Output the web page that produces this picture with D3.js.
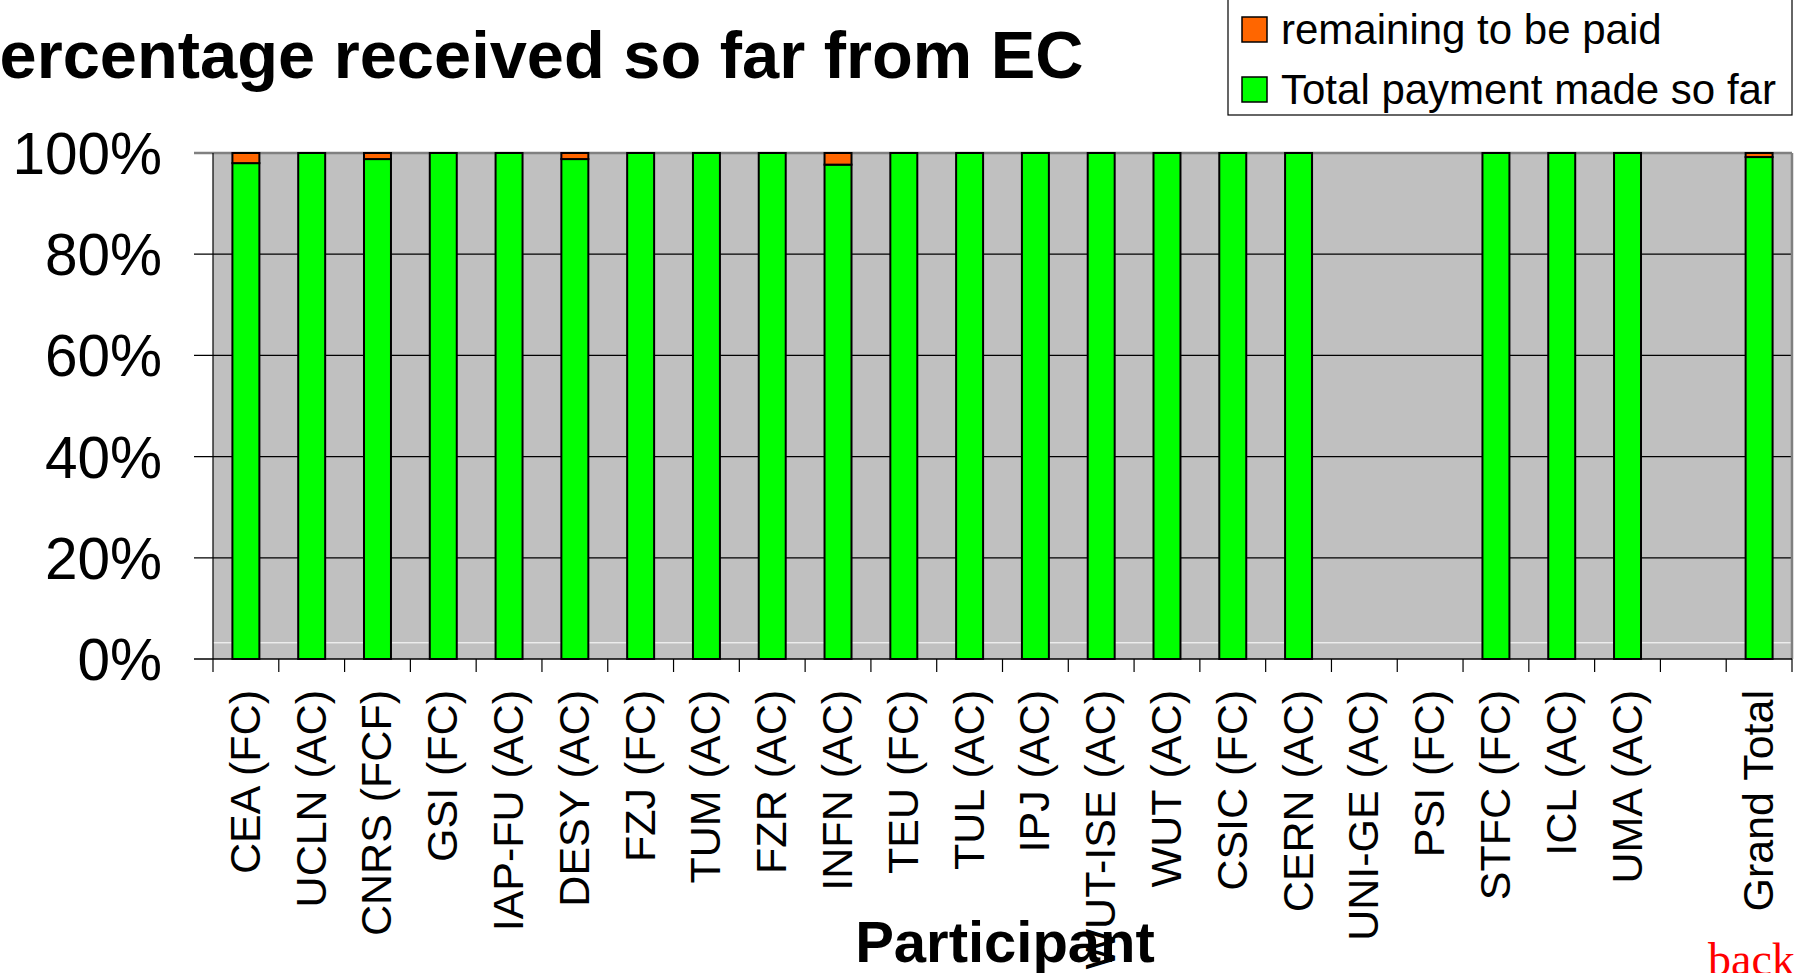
<!DOCTYPE html>
<html>
<head>
<meta charset="utf-8">
<script src="https://cdn.jsdelivr.net/npm/d3@7"></script>
<style>
  body { margin: 0; background: #fff; }
  svg { display: block; font-family: "Liberation Sans", Arial, sans-serif; }
</style>
</head>
<body>
<svg id="chart" width="1803" height="973"></svg>
<script>
// categories (the empty one is the gap before Grand Total)
const participants = [
  "CEA (FC)", "UCLN (AC)", "CNRS (FCF)", "GSI (FC)", "IAP-FU (AC)", "DESY (AC)",
  "FZJ (FC)", "TUM (AC)", "FZR (AC)", "INFN (AC)", "TEU (FC)", "TUL (AC)",
  "IPJ (AC)", "WUT-ISE (AC)", "WUT (AC)", "CSIC (FC)", "CERN (AC)", "UNI-GE (AC)",
  "PSI (FC)", "STFC (FC)", "ICL (AC)", "UMA (AC)", "", "Grand Total"
]
// percent paid so far / remaining (null = no bar)
const paidSoFar = [
  98.0, 100, 98.8, 100, 100, 98.8,
  100, 100, 100, 97.7, 100, 100,
  100, 100, 100, 100, 100, null,
  null, 100, 100, 100, null, 99.2
]
const remaining = [
  2.0, 0, 1.2, 0, 0, 1.2,
  0, 0, 0, 2.3, 0, 0,
  0, 0, 0, 0, 0, null,
  null, 0, 0, 0, null, 0.8
]
const yTicks = [0, 20, 40, 60, 80, 100]
const legendItems = [
  { label: "remaining to be paid", color: "#FF6600" },
  { label: "Total payment made so far", color: "#00FF00" }
]

const svg = d3.select("#chart")
const plot = { left: 213, right: 1792, top: 153, bottom: 659 }

const x = d3.scaleBand().domain(participants).range([plot.left, plot.right]).padding(0)
const y = d3.scaleLinear().domain([0, 100]).range([plot.bottom, plot.top])

// plot background
svg.append("rect")
  .attr("x", plot.left).attr("y", plot.top)
  .attr("width", plot.right - plot.left).attr("height", plot.bottom - plot.top)
  .attr("fill", "#C0C0C0")

// odd white line near the floor, as in the original
svg.append("line")
  .attr("x1", plot.left).attr("x2", plot.right)
  .attr("y1", y(3.2)).attr("y2", y(3.2))
  .attr("stroke", "#fff").attr("stroke-width", 1)

// gridlines + y ticks
svg.append("g").selectAll("line")
  .data(yTicks.filter(d => d > 0))
  .join("line")
  .attr("x1", 194).attr("x2", plot.right)
  .attr("y1", d => y(d)).attr("y2", d => y(d))
  .attr("stroke", d => d === 100 ? "#808080" : "#000")
  .attr("stroke-width", d => d === 100 ? 2.5 : 1.2)

// right border
svg.append("line")
  .attr("x1", plot.right).attr("x2", plot.right)
  .attr("y1", plot.top).attr("y2", plot.bottom)
  .attr("stroke", "#808080").attr("stroke-width", 2.5)

// y labels
svg.append("g").selectAll("text")
  .data(yTicks)
  .join("text")
  .attr("x", 162)
  .attr("y", d => y(d) + 21)
  .attr("text-anchor", "end")
  .attr("font-size", 58.5)
  .text(d => d + "%")

// bars
const barW = x.bandwidth() * 0.41
const bars = svg.append("g")
participants.forEach((p, i) => {
  if (paidSoFar[i] == null) return
  const bx = x(p) + (x.bandwidth() - barW) / 2
  bars.append("rect")
    .attr("x", bx).attr("width", barW)
    .attr("y", y(paidSoFar[i])).attr("height", y(0) - y(paidSoFar[i]))
    .attr("fill", "#00FF00").attr("stroke", "#000").attr("stroke-width", 2)
  if (remaining[i] > 0) {
    bars.append("rect")
      .attr("x", bx).attr("width", barW)
      .attr("y", y(paidSoFar[i] + remaining[i]))
      .attr("height", y(paidSoFar[i]) - y(paidSoFar[i] + remaining[i]))
      .attr("fill", "#FF6600").attr("stroke", "#000").attr("stroke-width", 2)
  }
})

// axes lines
svg.append("line")
  .attr("x1", plot.left).attr("x2", plot.left)
  .attr("y1", plot.top).attr("y2", plot.bottom)
  .attr("stroke", "#000").attr("stroke-width", 1.2)
svg.append("line")
  .attr("x1", 194).attr("x2", plot.right)
  .attr("y1", plot.bottom).attr("y2", plot.bottom)
  .attr("stroke", "#000").attr("stroke-width", 1.5)

// x ticks at band boundaries
const bounds = participants.map(p => x(p)).concat([plot.right])
svg.append("g").selectAll("line")
  .data(bounds)
  .join("line")
  .attr("x1", d => d).attr("x2", d => d)
  .attr("y1", plot.bottom).attr("y2", plot.bottom + 13)
  .attr("stroke", "#000").attr("stroke-width", 1.2)

// axis title
svg.append("text")
  .attr("x", 1005).attr("y", 962)
  .attr("text-anchor", "middle")
  .attr("font-size", 58).attr("font-weight", "bold")
  .text("Participant")

// x labels, rotated
svg.append("g").selectAll("text")
  .data(participants.filter(p => p !== ""))
  .join("text")
  .attr("transform", d => `translate(${x(d) + x.bandwidth() / 2 + 14},690) rotate(-90)`)
  .attr("text-anchor", "end")
  .attr("font-size", 43)
  .text(d => d)

// title (starts left of the page edge in the original)
svg.append("text")
  .attr("x", -45).attr("y", 78)
  .attr("font-size", 66.8).attr("font-weight", "bold")
  .text("Percentage received so far from EC")

// legend
const lg = svg.append("g")
lg.append("rect")
  .attr("x", 1228).attr("y", -10).attr("width", 564).attr("height", 125)
  .attr("fill", "#fff").attr("stroke", "#000").attr("stroke-width", 1.2)
legendItems.forEach((d, i) => {
  lg.append("rect")
    .attr("x", 1242).attr("y", 17 + i * 60).attr("width", 25).attr("height", 25)
    .attr("fill", d.color).attr("stroke", "#000").attr("stroke-width", 1.5)
  lg.append("text")
    .attr("x", 1281).attr("y", 44 + i * 60)
    .attr("font-size", 42)
    .text(d.label)
})

// "back" link text
svg.append("text")
  .attr("x", 1708).attr("y", 975)
  .attr("font-family", "'Liberation Serif', 'Times New Roman', serif")
  .attr("font-size", 46).attr("fill", "#FF0000")
  .text("back")
</script>
</body>
</html>
